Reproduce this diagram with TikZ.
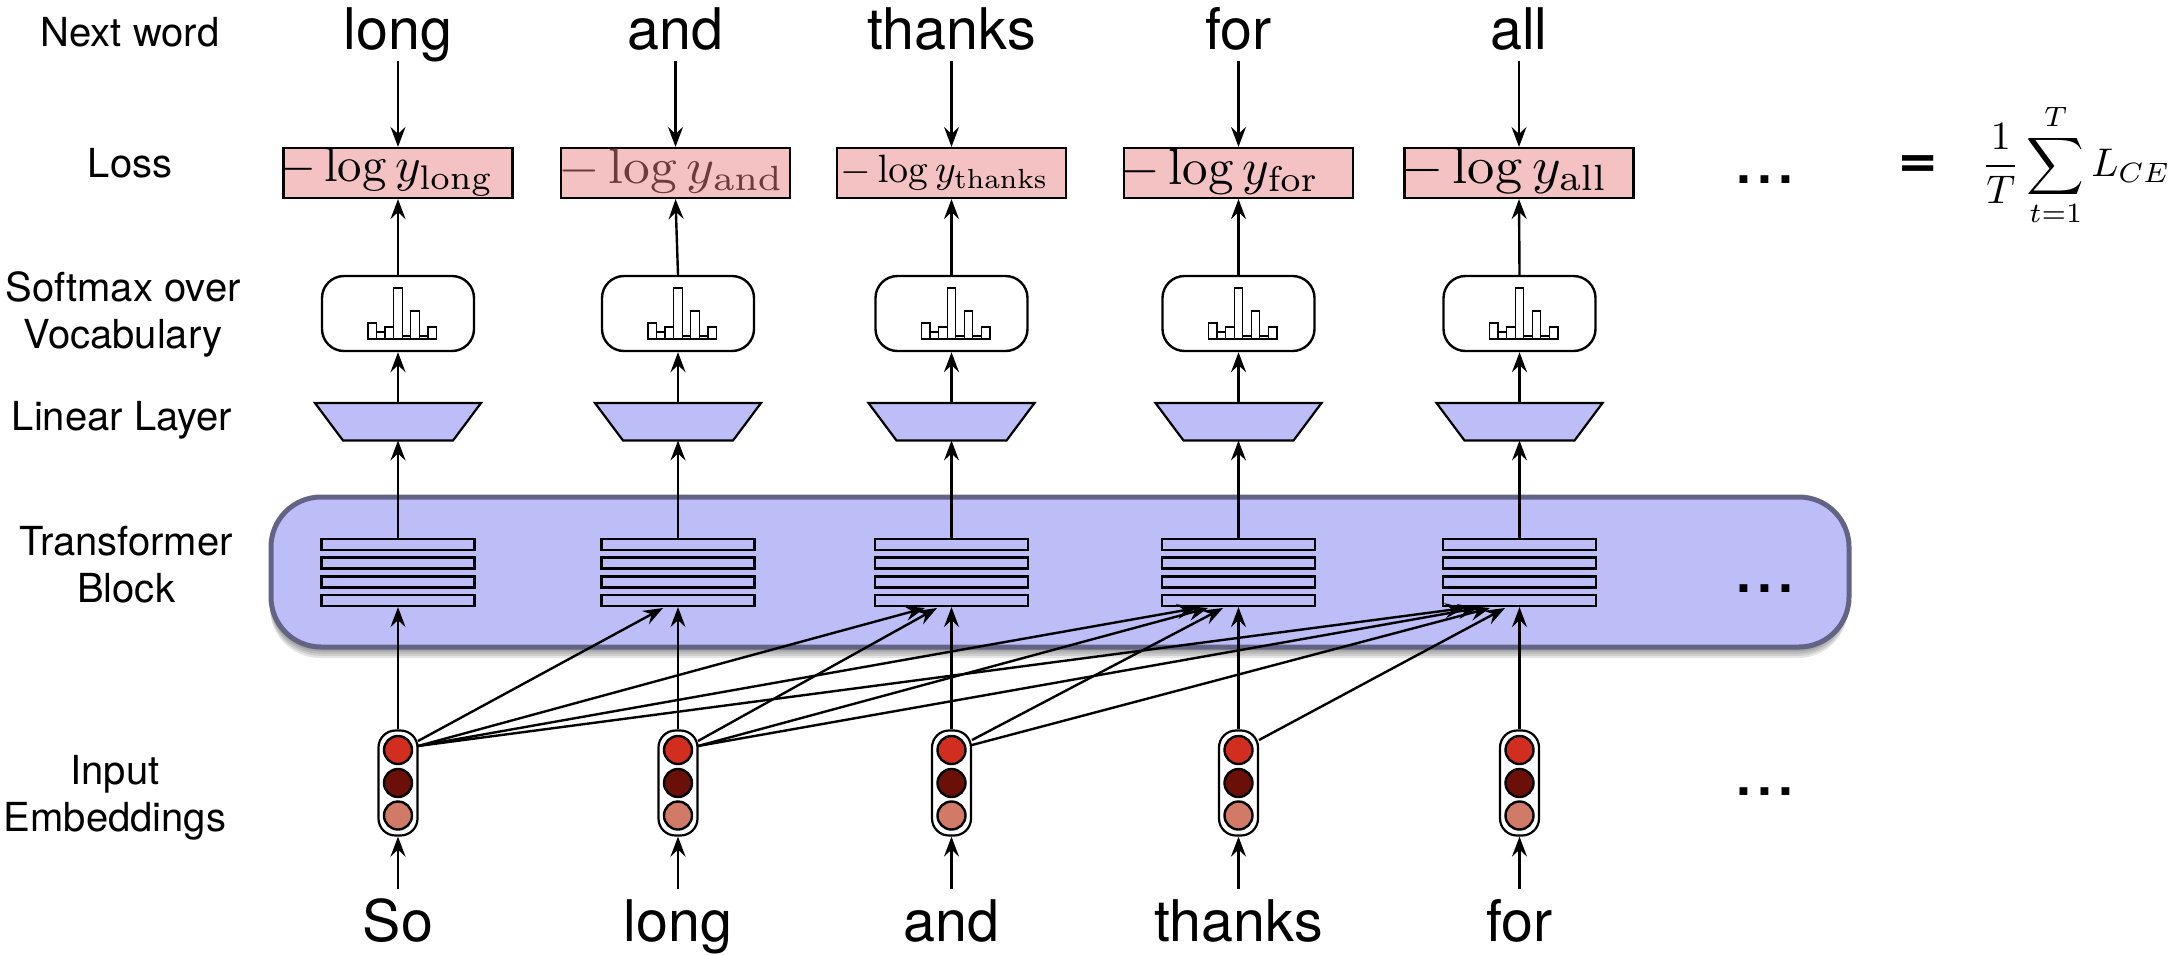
\documentclass[tikz,border=0pt]{standalone}
\usepackage[no-math]{fontspec}
\setmainfont{TeX Gyre Heros}
\usetikzlibrary{arrows.meta,calc}
\definecolor{blk}{HTML}{BDBDF7}
\definecolor{blkedge}{HTML}{636385}
\definecolor{lossred}{HTML}{F4C2C2}
\definecolor{dimtext}{HTML}{6E3B3B}
\definecolor{cA}{HTML}{D22E20}
\definecolor{cB}{HTML}{6B1008}
\definecolor{cC}{HTML}{D27A68}
\tikzset{
 x=1pt,y=-1pt,
 ar/.style={draw=black,line width=2.4pt,-{Stealth[length=20pt,width=15pt,inset=7pt]}},
 lossbox/.style={draw=black,line width=2.2pt,fill=lossred,minimum height=50pt,inner sep=0pt,anchor=center},
 losstext/.style={inner sep=0pt,anchor=base west},
 softbox/.style={draw=black,line width=2.4pt,fill=white,rounded corners=22pt,minimum width=152pt,minimum height=75pt,inner sep=0pt},
 layer/.style={draw=black,line width=2.2pt,fill=blk,minimum width=153pt,minimum height=11pt,inner sep=0pt},
 pill/.style={draw=black,line width=2.2pt,fill=white,rounded corners=17pt,minimum width=39pt,minimum height=105pt,inner sep=0pt},
 dotA/.style={circle,draw=black,line width=2.4pt,fill=cA,minimum size=28pt,inner sep=0pt},
 dotB/.style={circle,draw=black,line width=2.4pt,fill=cB,minimum size=28pt,inner sep=0pt},
 dotC/.style={circle,draw=black,line width=2.4pt,fill=cC,minimum size=28pt,inner sep=0pt},
 bigw/.style={font=\fontsize{57.4}{60}\selectfont,inner sep=0pt,anchor=base},
 lab/.style={font=\fontsize{40}{47}\selectfont,inner sep=0pt,align=center},
 dotsn/.style={font=\fontsize{75}{75}\selectfont,inner sep=0pt,anchor=base},
 trapz/.style={draw=black,line width=2.2pt,fill=blk,line join=miter},
 bar/.style={draw=black,line width=1.3pt,fill=white},
 blockshade/.style={fill=black,fill opacity=.1,rounded corners=50pt,minimum width=1578pt,minimum height=150pt,inner sep=0pt},
}
\newcommand{\softbars}[1]{%
 \foreach \i/\h in {0/16,1/7,2/12,3/51,4/3,5/28,6/3,7/12}{
  \draw[bar] ({#1-30+\i*8.55},339) rectangle ({#1-30+8.55+\i*8.55},{339-\h});
 }}
\begin{document}
\begin{tikzpicture}
\useasboundingbox (0,0) rectangle (2178,954);
% soft shadow of the transformer block
\foreach \s in {1,...,5}{
 \node[blockshade] (sh\s) at (1059,{572+2.2*\s}) {};
}
% transformer block
\node[draw=blkedge,line width=5pt,fill=blk,rounded corners=50pt,minimum width=1578pt,minimum height=150pt,inner sep=0pt] (tb) at (1060,572) {};
% columns
\foreach \n/\cx/\lx/\top/\bot in {
 1/398/398/long/So,
 2/678/675.5/and/long,
 3/951.5/951.5/thanks/and,
 4/1238.5/1238.5/for/thanks,
 5/1519.5/1519/all/for}{
 \node[softbox] (sm\n) at (\cx,313.5) {};
 \softbars{\cx}
 \coordinate (tt\n) at (\cx,403);
 \coordinate (tb\n) at (\cx,440.5);
 \draw[trapz] (\cx-83,403) -- (\cx+83,403) -- (\cx+55,440.5) -- (\cx-55,440.5) -- cycle;
 \node[layer] (la\n) at (\cx,544.5) {};
 \node[layer] (lb\n) at (\cx,563) {};
 \node[layer] (lc\n) at (\cx,582) {};
 \node[layer] (ld\n) at (\cx,600.5) {};
 \node[pill] (pi\n) at (\cx,783) {};
 \node[dotA] (da\n) at (\cx,750) {};
 \node[dotB] (db\n) at (\cx,783) {};
 \node[dotC] (dc\n) at (\cx,815.5) {};
 \node[bigw] (up\n) at (\lx,49) {\top};
 \node[bigw] (dn\n) at (\cx,941) {\bot};
 \coordinate (upa\n) at (\lx,61);
 \coordinate (dna\n) at (\cx,889);
 \node[lossbox,minimum width=229pt] (l\n) at (\lx,173) {};
 \draw[ar] (tt\n) -- (sm\n.south);
 \draw[ar] (la\n.north) -- (tb\n);
 \draw[ar] (pi\n.north) -- (ld\n.south);
 \draw[ar] (dna\n) -- (pi\n.south);
 \draw[ar] (upa\n) -- (l\n.north);
 \draw[ar] (sm\n.north) -- (l\n.south);
}
% loss texts
\node[losstext] (t1) at (278,181.7) {\scalebox{4.88}{$-\log y_{\mathrm{long}}$}};
\node[losstext] (t2) at (558,183) {\scalebox{5.35}[5]{\color{dimtext}$-\log y_{\mathrm{and}}$}};
\node[losstext] (t3) at (840,182.7) {\scalebox{3.95}{$-\log y_{\mathrm{thanks}}$}};
\node[losstext] (t4) at (1120,184) {\scalebox{5.1}{$-\log y_{\mathrm{for}}$}};
\node[losstext] (t5) at (1401,183) {\scalebox{5.45}[5.2]{$-\log y_{\mathrm{all}}$}};
% cross connections
\coordinate (e1a) at (418,741); \coordinate (e1b) at (418,746);
\coordinate (e2a) at (698,741); \coordinate (e2b) at (698,746);
\coordinate (e3a) at (972,740); \coordinate (e3b) at (972,745);
\coordinate (e4a) at (1259,740);
\coordinate (g1) at (663,608);
\coordinate (g2) at (925,608);  \coordinate (g3) at (937,608);
\coordinate (g4) at (1197,608); \coordinate (g5) at (1208,608); \coordinate (g6) at (1223,608);
\coordinate (g7) at (1465,608); \coordinate (g8) at (1478,608); \coordinate (g9) at (1490,608); \coordinate (g10) at (1505,608);
\draw[ar] (e1a) -- (g1);
\draw[ar] (e1b) -- (g2);
\draw[ar] (e1b) -- (g4);
\draw[ar] (e1b) -- (g7);
\draw[ar] (e2a) -- (g3);
\draw[ar] (e2b) -- (g5);
\draw[ar] (e2b) -- (g8);
\draw[ar] (e3a) -- (g6);
\draw[ar] (e3b) -- (g9);
\draw[ar] (e4a) -- (g10);
% labels
\node[lab] (n1) at (130,32) {Next word};
\node[lab] (n2) at (130,163) {Loss};
\node[lab] (n3) at (123,314.5) {Softmax over\\Vocabulary};
\node[lab] (n4) at (122,420) {Linear Layer};
\node[lab] (n5) at (126,565) {Transformer\\Block};
\node[lab] (n6) at (115,798) {Input\\Embeddings};
% dots and formula
\node[dotsn] (d1) at (1765,183) {...};
\node[dotsn] (d2) at (1765,592) {...};
\node[dotsn] (d3) at (1765,795) {...};
\node[inner sep=0pt] (eq) at (1918,167) {\scalebox{1.2}[1]{\fontsize{56}{60}\selectfont\bfseries =}};
\node[inner sep=0pt] (ff) at (2076,165) {\scalebox{4}{$\displaystyle\frac{1}{T}\sum_{t=1}^{T}L_{CE}$}};
\end{tikzpicture}
\end{document}
